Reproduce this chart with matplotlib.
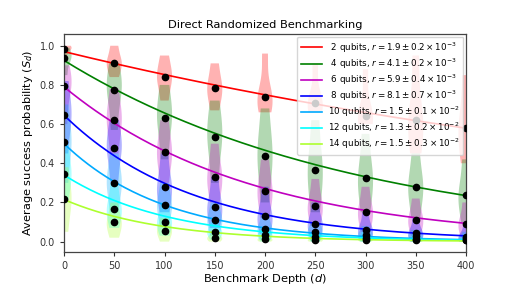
import numpy as np
import matplotlib
matplotlib.use('Agg')
import matplotlib.pyplot as plt

depths = [0, 50, 100, 150, 200, 250, 300, 350, 400]
qubits = [2, 4, 6, 8, 10, 12, 14]
colors = ['red', 'green', 'm', 'blue', '#00aaff', 'cyan', 'greenyellow']
r_text = [r'1.9 \pm 0.2 \times 10^{-3}', r'4.1 \pm 0.2 \times 10^{-3}',
          r'5.9 \pm 0.4 \times 10^{-3}', r'8.1 \pm 0.7 \times 10^{-3}',
          r'1.5 \pm 0.1 \times 10^{-2}', r'1.3 \pm 0.2 \times 10^{-2}',
          r'1.5 \pm 0.3 \times 10^{-2}']

# mean success probability at each depth
mean_2 = [0.985, 0.913, 0.84, 0.783, 0.738, 0.709, 0.641, 0.62, 0.58]
mean_4 = [0.939, 0.776, 0.633, 0.536, 0.439, 0.364, 0.325, 0.278, 0.238]
mean_6 = [0.794, 0.622, 0.456, 0.332, 0.259, 0.182, 0.152, 0.112, 0.092]
mean_8 = [0.646, 0.478, 0.279, 0.177, 0.131, 0.092, 0.06, 0.043, 0.026]
mean_10 = [0.507, 0.301, 0.186, 0.109, 0.065, 0.05, 0.035, 0.03, 0.02]
mean_12 = [0.347, 0.168, 0.102, 0.049, 0.033, 0.025, 0.02, 0.015, 0.01]
mean_14 = [0.219, 0.099, 0.056, 0.02, 0.012, 0.01, 0.01, 0.008, 0.006]

# lower / upper extent of each violin
lo_2 = [0.93, 0.84, 0.72, 0.67, 0.66, 0.66, 0.6, 0.45, 0.4]
hi_2 = [1.0, 1.0, 0.95, 0.91, 0.96, 0.91, 0.88, 0.95, 0.85]
lo_4 = [0.85, 0.57, 0.42, 0.3, 0.2, 0.15, 0.15, 0.12, 0.1]
hi_4 = [0.99, 0.91, 0.8, 0.72, 0.68, 0.62, 0.55, 0.45, 0.42]
lo_6 = [0.6, 0.45, 0.3, 0.2, 0.12, 0.08, 0.05, 0.03, 0.02]
hi_6 = [0.9, 0.78, 0.62, 0.5, 0.42, 0.32, 0.28, 0.22, 0.2]
lo_8 = [0.45, 0.3, 0.15, 0.07, 0.04, 0.02, 0.01, 0.0, 0.0]
hi_8 = [0.82, 0.62, 0.45, 0.33, 0.28, 0.2, 0.15, 0.12, 0.1]
lo_10 = [0.3, 0.15, 0.08, 0.03, 0.01, 0.0, 0.0, 0.0, 0.0]
hi_10 = [0.7, 0.45, 0.3, 0.2, 0.14, 0.1, 0.08, 0.06, 0.05]
lo_12 = [0.2, 0.07, 0.03, 0.01, 0.0, 0.0, 0.0, 0.0, 0.0]
hi_12 = [0.5, 0.3, 0.2, 0.1, 0.07, 0.05, 0.05, 0.04, 0.04]
lo_14 = [0.05, 0.02, 0.0, 0.0, 0.0, 0.0, 0.0, 0.0, 0.0]
hi_14 = [0.38, 0.2, 0.12, 0.06, 0.04, 0.04, 0.03, 0.03, 0.03]

# fitted decay: amplitude and ratio per 100 steps
fit_amp = [0.97, 0.925, 0.79, 0.645, 0.50, 0.34, 0.215]
fit_ratio = [0.879, 0.710, 0.586, 0.462, 0.374, 0.382, 0.358]

means = [mean_2, mean_4, mean_6, mean_8, mean_10, mean_12, mean_14]
lows = [lo_2, lo_4, lo_6, lo_8, lo_10, lo_12, lo_14]
highs = [hi_2, hi_4, hi_6, hi_8, hi_10, hi_12, hi_14]

fig = plt.figure(figsize=(5.18, 2.88), dpi=100)
ax = fig.add_axes([0.1236, 0.125, 0.776, 0.757])

dd = np.linspace(0, 400, 200)
for i in range(len(qubits)):
    data = [[lows[i][j], means[i][j], means[i][j], highs[i][j]] for j in range(len(depths))]
    vp = ax.violinplot(data, positions=depths, widths=15, showextrema=False,
                       bw_method=0.65)
    for body in vp['bodies']:
        body.set_facecolor(colors[i])
        body.set_edgecolor('none')
        body.set_alpha(0.3)
        body.set_zorder(1)

for i in range(len(qubits)):
    label = '%s qubits, $r = %s$' % ((' ' if qubits[i] < 10 else '') + str(qubits[i]), r_text[i])
    ax.plot(dd, fit_amp[i] * fit_ratio[i] ** (dd / 100.0), color=colors[i], lw=1.2,
            label=label, zorder=2)
    ax.plot(depths, means[i], 'o', color='black', ms=4.5, zorder=3)

ax.set_xlim(0, 400)
ax.set_ylim(-0.053, 1.06)
ax.set_xticks(depths)
ax.set_yticks([0.0, 0.2, 0.4, 0.6, 0.8, 1.0])
ax.tick_params(labelsize=7, colors='#333333', length=3, width=0.8)
for s in ax.spines.values():
    s.set_color('#444444')
    s.set_linewidth(0.9)

ax.set_title('Direct Randomized Benchmarking', fontsize=8.2, pad=4)
ax.set_xlabel('Benchmark Depth ($d$)', fontsize=8.2, labelpad=1)
ax.set_ylabel('Average success probability $(S_d)$', fontsize=8.2, labelpad=3)
ax.legend(loc='upper right', fontsize=6.3, handlelength=2.4, labelspacing=0.2,
          borderaxespad=0.3, borderpad=0.4, handletextpad=0.7)

plt.savefig('out.png', dpi=100)
